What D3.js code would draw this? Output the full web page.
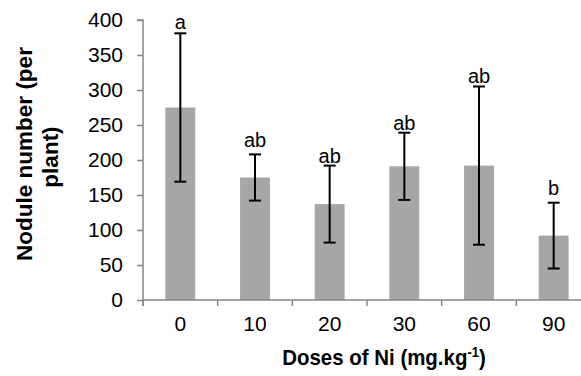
<!DOCTYPE html>
<html>
<head>
<meta charset="utf-8">
<script src="https://cdn.jsdelivr.net/npm/d3@7/dist/d3.min.js"></script>
<style>
  html, body { margin: 0; padding: 0; background: #fff; }
  svg { display: block; font-family: Arial, "Liberation Sans", sans-serif; }
</style>
</head>
<body>
<svg id="chart" width="581" height="376"></svg>
<script>
// ---- data ----
const categories = ["0", "10", "20", "30", "60", "90"];
const means      = [275, 175, 137, 191, 192, 92];
const errors     = [106, 33, 55, 48, 113, 47];
const letters    = ["a", "ab", "ab", "ab", "ab", "b"];
const letterPos  = [387, 219, 196, 243, 310, 150];
const yTicks     = [0, 50, 100, 150, 200, 250, 300, 350, 400];
const yTitle     = ["Nodule number (per", "plant)"];

// ---- layout ----
const mLeft = 143, mRight = 591, mTop = 20, mBottom = 300;
const axisColor = "#868686";
const barColor = "#a6a6a6";

const svg = d3.select("#chart");

const x = d3.scaleBand().domain(categories).range([mLeft, mRight])
  .paddingInner(0.6).paddingOuter(0.3);
const y = d3.scaleLinear().domain([0, 400]).range([mBottom, mTop]);

// bars
svg.append("g").selectAll("rect").data(categories).join("rect")
  .attr("x", d => x(d))
  .attr("y", (d, i) => y(means[i]))
  .attr("width", x.bandwidth())
  .attr("height", (d, i) => y(0) - y(means[i]))
  .attr("fill", barColor);

// y axis
const yAxis = d3.axisLeft(y).tickValues(yTicks).tickSize(6).tickPadding(14);
const gy = svg.append("g").attr("transform", `translate(${mLeft},0)`).call(yAxis);
gy.select(".domain").attr("stroke", axisColor).attr("stroke-width", 1.5)
  .attr("d", `M-6,${mTop}H0V${mBottom + 6}`);
gy.selectAll(".tick line").attr("stroke", axisColor).attr("stroke-width", 1.5);
gy.selectAll(".tick text").attr("fill", "#000").style("font-size", "21px")
  .style("font-family", "Arial, 'Liberation Sans', sans-serif");

// x axis
const xAxis = d3.axisBottom(x).tickSize(0).tickPadding(16);
const gx = svg.append("g").attr("transform", `translate(0,${mBottom})`).call(xAxis);
gx.select(".domain").attr("stroke", axisColor).attr("stroke-width", 1.5)
  .attr("d", `M${mLeft},0H${mRight}`);
gx.selectAll(".tick text").attr("fill", "#000").style("font-size", "21px")
  .style("font-family", "Arial, 'Liberation Sans', sans-serif");
// boundary ticks
const step = x.step();
const bounds = categories.map(c => x(c) - step * x.paddingOuter());
gx.selectAll(".btick").data(bounds).join("line")
  .attr("class", "btick")
  .attr("x1", d => d).attr("x2", d => d)
  .attr("y1", 0).attr("y2", 6)
  .attr("stroke", axisColor).attr("stroke-width", 1.5);

// error bars
const eg = svg.append("g").attr("stroke", "#000").attr("stroke-width", 2);
categories.forEach((c, i) => {
  const cx = x(c) + x.bandwidth() / 2;
  const y1 = y(means[i] + errors[i]);
  const y2 = y(means[i] - errors[i]);
  eg.append("line").attr("x1", cx).attr("x2", cx).attr("y1", y1).attr("y2", y2);
  eg.append("line").attr("x1", cx - 6).attr("x2", cx + 6).attr("y1", y1).attr("y2", y1);
  eg.append("line").attr("x1", cx - 6).attr("x2", cx + 6).attr("y1", y2).attr("y2", y2);
});

// letters
svg.append("g").selectAll("text").data(categories).join("text")
  .attr("x", d => x(d) + x.bandwidth() / 2)
  .attr("y", (d, i) => y(letterPos[i]))
  .attr("text-anchor", "middle")
  .style("font-size", "20px")
  .text((d, i) => letters[i]);

// x title
const xt = svg.append("text")
  .attr("transform", "translate(384,365) scale(0.93,1)")
  .attr("text-anchor", "middle")
  .style("font-size", "22px").style("font-weight", "bold");
xt.append("tspan").text("Doses of Ni (mg.kg");
xt.append("tspan").attr("dy", -8).style("font-size", "14px").text("-1");
xt.append("tspan").attr("dy", 8).text(")");

// y title
const yt = svg.append("text")
  .attr("transform", "translate(32,154) rotate(-90)")
  .attr("text-anchor", "middle")
  .style("font-size", "22.5px").style("font-weight", "bold");
yt.append("tspan").attr("x", 0).attr("y", 0).text(yTitle[0]);
yt.append("tspan").attr("x", -3).attr("y", 26).text(yTitle[1]);
</script>
</body>
</html>
